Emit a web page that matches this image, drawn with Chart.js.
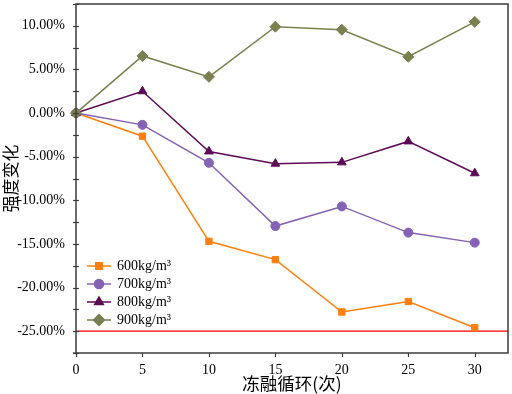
<!DOCTYPE html>
<html><head><meta charset="utf-8">
<script src="https://cdn.jsdelivr.net/npm/chart.js@4"></script>
<style>html,body{margin:0;padding:0;background:#fff;}#wrap{width:512px;height:394px;}</style>
</head><body><div id="wrap"><canvas id="c" width="512" height="394"></canvas></div>
<script>
const cycles = [0, 5, 10, 15, 20, 25, 30];
const s600 = [0, -2.65, -14.7, -16.8, -22.8, -21.6, -24.6];
const s700 = [0, -1.35, -5.7, -12.95, -10.7, -13.7, -14.85];
const s800 = [0, 2.5, -4.4, -5.8, -5.65, -3.25, -6.9];
const s900 = [0, 6.55, 4.15, 9.9, 9.55, 6.45, 10.45];
const seriesLabels = ['600kg/m³', '700kg/m³', '800kg/m³', '900kg/m³'];
const limitValue = -25;
const xTicks = [0, 5, 10, 15, 20, 25, 30];
const yTicks = [-27.5, -25, -22.5, -20, -17.5, -15, -12.5, -10, -7.5, -5, -2.5, 0, 2.5, 5, 7.5, 10, 12.5];
const xTitle = '冻融循环(次)';
const yTitle = '强度变化';

const colors = ['#ff7f0e', '#8462b4', '#5c0a55', '#7a8050'];
const styles = ['rect', 'circle', 'triangle', 'rectRot'];
const radii = [4.5, 4.5, 5, 5.5];
const allSeries = [s600, s700, s800, s900];
const axisColor = '#3c3c3c';
const serif = "'Liberation Serif','Times New Roman',serif";

const datasets = allSeries.map((s, i) => ({
  label: seriesLabels[i],
  data: cycles.map((c, j) => ({x: c, y: s[j]})),
  borderColor: colors[i], backgroundColor: colors[i],
  borderWidth: 1.5, pointStyle: styles[i], pointRadius: radii[i],
  pointBorderWidth: 1, pointHoverRadius: radii[i],
  order: 4 - i, clip: false, tension: 0
}));
datasets.push({
  label: '_limit', data: [{x: 0, y: limitValue}, {x: 32.5, y: limitValue}],
  borderColor: '#ff4545', borderWidth: 1.8, pointRadius: 0, order: 10, clip: false
});

const framePlugin = {
  id: 'frame',
  afterDraw(chart) {
    const {ctx, chartArea: a, scales} = chart;
    ctx.save();
    ctx.strokeStyle = axisColor;
    ctx.lineWidth = 1.5;
    ctx.strokeRect(a.left, a.top, a.right - a.left, a.bottom - a.top);
    ctx.lineWidth = 1.2;
    yTicks.forEach(v => {
      const y = Math.round(scales.y.getPixelForValue(v)) + 0.5;
      ctx.beginPath(); ctx.moveTo(a.left - 3, y); ctx.lineTo(a.left + 3, y); ctx.stroke();
    });
    xTicks.forEach(v => {
      const x = Math.round(scales.x.getPixelForValue(v)) + 0.5;
      ctx.beginPath(); ctx.moveTo(x, a.bottom); ctx.lineTo(x, a.bottom + 4); ctx.stroke();
    });
    ctx.beginPath(); ctx.moveTo(a.left - 3, a.bottom); ctx.lineTo(a.left, a.bottom); ctx.stroke();
    const ys = [266, 284, 302, 320];
    ctx.font = "14px " + serif;
    ctx.textBaseline = 'middle';
    ctx.textAlign = 'left';
    for (let i = 0; i < 4; i++) {
      const y = ys[i];
      ctx.strokeStyle = colors[i]; ctx.lineWidth = 1.5;
      ctx.beginPath(); ctx.moveTo(87, y); ctx.lineTo(111, y); ctx.stroke();
      ctx.fillStyle = colors[i];
      Chart.helpers.drawPoint(ctx, {pointStyle: styles[i], radius: radii[i], rotation: 0, borderWidth: 1}, 99, y);
      ctx.fill();
      ctx.fillStyle = '#000';
      ctx.fillText(seriesLabels[i], 117, y);
    }
    ctx.restore();
  }
};

new Chart(document.getElementById('c'), {
  type: 'line',
  data: {datasets},
  plugins: [framePlugin],
  options: {
    responsive: false, animation: false,
    layout: {autoPadding: false, padding: {top: 4, right: 4, left: 0, bottom: 0}},
    plugins: {legend: {display: false}, tooltip: {enabled: false}},
    scales: {
      x: {
        type: 'linear', min: 0, max: 32.5,
        afterBuildTicks: s => { s.ticks = xTicks.map(v => ({value: v})); },
        afterFit: s => { s.height = 41; s.paddingLeft = 0; s.paddingRight = 0; },
        grid: {display: false, drawTicks: false},
        border: {display: false},
        ticks: {color: '#000', font: {family: serif, size: 14}, padding: 9,
                callback: v => String(v)},
        title: {display: true, text: xTitle, color: '#000',
                font: {family: "'Noto Sans CJK SC'", size: 17.5}, padding: {top: 0, bottom: 0}}
      },
      y: {
        type: 'linear', min: -27.5, max: 12.5,
        afterBuildTicks: s => { s.ticks = yTicks.filter(v => v % 5 === 0).map(v => ({value: v})); },
        afterFit: s => { s.width = 76; s.paddingTop = 0; s.paddingBottom = 0; },
        grid: {display: false, drawTicks: false},
        border: {display: false},
        ticks: {color: '#000', font: {family: serif, size: 14}, padding: 11,
                callback: v => v.toFixed(2) + '%'},
        title: {display: true, text: yTitle, color: '#000',
                font: {family: "'Noto Sans CJK SC'", size: 17}, padding: {top: 0, bottom: 0}}
      }
    }
  }
});
</script></body></html>
